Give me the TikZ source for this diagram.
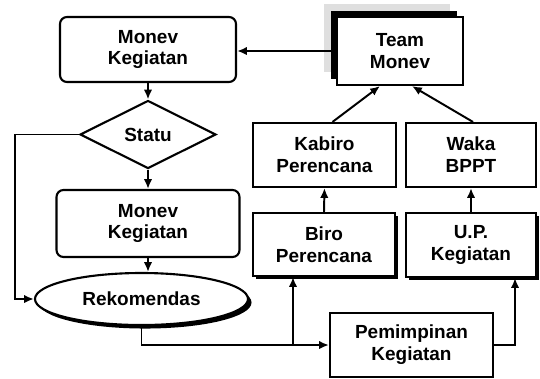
\documentclass[tikz,border=0pt]{standalone}
\usepackage{fontspec}
\setmainfont{Liberation Sans}
\usetikzlibrary{shapes.geometric}
\usetikzlibrary{shadows}
\usetikzlibrary{arrows.meta}

\begin{document}
\begin{tikzpicture}[x=0.025cm, y=-0.025cm, >={Latex[length=7pt,width=6pt]},
  every node/.style={font=\bfseries\fontsize{13.5}{15.5}\selectfont, align=center},
  kotak/.style={draw, line width=1.5pt, inner sep=0pt, fill=white},
  kotakr/.style={kotak, rounded corners=5pt},
  panah/.style={->, line width=1.4pt}]

\useasboundingbox (0,0) rectangle (540,378);

% alur monev
\node[kotakr, minimum width=4.4cm, minimum height=1.625cm] (monev1) at (148,49.5) {Monev\\Kegiatan};
\node[kotak, diamond, aspect=2, minimum width=3.4cm, minimum height=1.7cm] (statu) at (148,134.5) {Statu};
\node[kotakr, minimum width=4.575cm, minimum height=1.675cm] (monev2) at (148,223.5) {Monev\\Kegiatan};
\node[kotak, ellipse, minimum width=5.325cm, minimum height=1.3cm,
      drop shadow={shadow xshift=2.5pt, shadow yshift=-2.5pt, opacity=1, fill=black}] (rek) at (141.5,299) {Rekomendas};
\coordinate (kiri) at (15,134.5);

% organisasi
\node[kotak, minimum width=3.15cm, minimum height=1.7cm,
      drop shadow={shadow xshift=-9pt, shadow yshift=9pt, opacity=1, fill=gray!25},
      drop shadow={shadow xshift=-4.5pt, shadow yshift=4.5pt, opacity=1, fill=black}] (team) at (400,51) {Team\\Monev};
\node[kotak, minimum width=3.575cm, minimum height=1.6cm] (kabiro) at (324.5,155) {Kabiro\\Perencana};
\node[kotak, minimum width=3.25cm, minimum height=1.6cm] (waka) at (471,155) {Waka\\BPPT};
\node[kotak, minimum width=3.55cm, minimum height=1.575cm,
      drop shadow={shadow xshift=2pt, shadow yshift=-2pt, opacity=1, fill=black}] (biro) at (324,244.5) {Biro\\Perencana};
\node[kotak, minimum width=3.25cm, minimum height=1.6cm,
      drop shadow={shadow xshift=2pt, shadow yshift=-2pt, opacity=1, fill=black}] (up) at (471,245) {U.P.\\Kegiatan};
\node[kotak, minimum width=4.075cm, minimum height=1.6cm] (pem) at (411.5,345) {Pemimpinan\\Kegiatan};
\coordinate (cab) at ([xshift=-0.775cm]biro.south);

\draw[panah] (team.west) -- (team.west -| monev1.east);
\draw[panah] (monev1.south) -- (statu.north);
\draw[panah] (statu.south) -- (monev2.north);
\draw[panah] (monev2.south) -- (rek.north -| monev2.south);
\draw[panah] (statu.west) -- (kiri) |- (rek.west);

\draw[panah] (rek.south) |- (pem.west);
\draw[panah] (cab |- pem.west) -- (cab);
\draw[panah] (pem.east) -| ([xshift=1.1cm]up.south);
\draw[panah] (biro.north) -- (kabiro.south);
\draw[panah] (up.north) -- (waka.south);
\draw[panah] ([xshift=0.2cm]kabiro.north) -- ([xshift=-0.5cm]team.south);
\draw[panah] ([xshift=0.05cm]waka.north) -- ([xshift=0.3cm]team.south);

\end{tikzpicture}
\end{document}
